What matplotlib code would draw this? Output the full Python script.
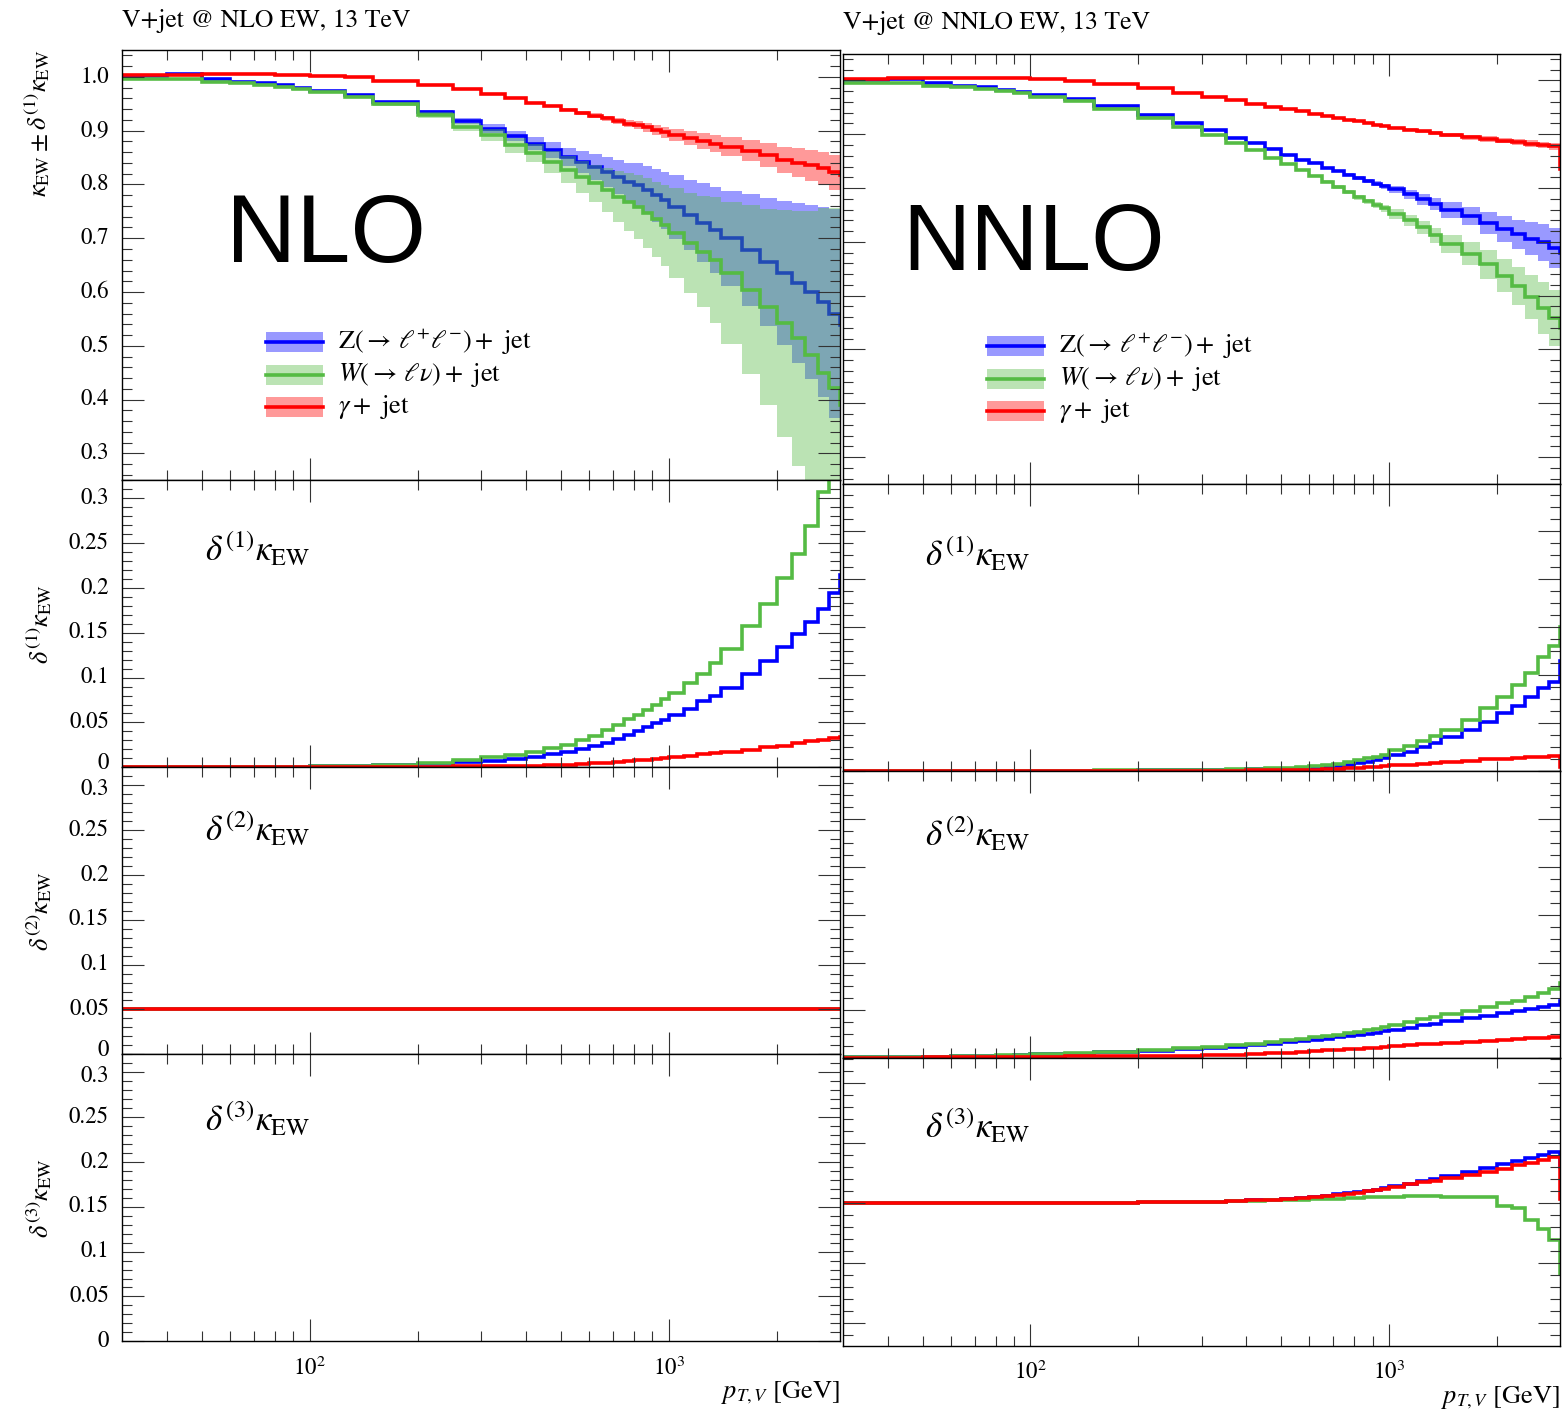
import numpy as np
import matplotlib
matplotlib.use("Agg")
import matplotlib.pyplot as plt
from matplotlib.ticker import MultipleLocator, NullFormatter
from matplotlib.patches import Rectangle
from matplotlib.lines import Line2D
from matplotlib.transforms import blended_transform_factory, offset_copy

plt.rcParams['font.family'] = ['STIXGeneral', 'DejaVu Serif']
plt.rcParams['mathtext.fontset'] = 'stix'

# ---------------------------------------------------------------------------
# Binning in p_T,V [GeV]; the last bin (3000-3500) lies beyond the plotted range
# ---------------------------------------------------------------------------
pt_edges = [30, 40, 50, 60, 70, 80, 90, 100, 125, 150, 200, 250,
            300, 350, 400, 450, 500, 550, 600, 650, 700, 750, 800, 850, 900, 950, 1000,
            1100, 1200, 1300, 1400, 1600, 1800, 2000, 2200, 2400, 2600, 2800, 3000, 3500]

# ---------------- NLO EW ----------------
kappa_nlo_z = [1.002, 1.005, 0.996, 0.991, 0.988, 0.984, 0.980, 0.974, 0.966, 0.9535,
               0.935, 0.918, 0.904, 0.890, 0.876, 0.864, 0.851, 0.842, 0.833, 0.823,
               0.814, 0.805, 0.799, 0.789, 0.780, 0.771, 0.758, 0.743, 0.729, 0.715,
               0.700, 0.678, 0.656, 0.635, 0.616, 0.600, 0.582, 0.560, 0.538]
kappa_nlo_w = [0.996, 0.996, 0.991, 0.988, 0.985, 0.981, 0.978, 0.971, 0.962, 0.949,
               0.929, 0.907, 0.892, 0.873, 0.858, 0.842, 0.827, 0.814, 0.802, 0.789,
               0.777, 0.768, 0.758, 0.747, 0.735, 0.724, 0.710, 0.691, 0.675, 0.659,
               0.635, 0.604, 0.573, 0.542, 0.514, 0.483, 0.449, 0.421, 0.390]
kappa_nlo_a = [1.003, 1.004, 1.005, 1.005, 1.005, 1.004, 1.004, 1.002, 0.999, 0.993,
               0.984, 0.977, 0.969, 0.960, 0.952, 0.946, 0.939, 0.933, 0.928, 0.923,
               0.918, 0.913, 0.910, 0.906, 0.901, 0.897, 0.892, 0.887, 0.881, 0.876,
               0.870, 0.863, 0.855, 0.846, 0.840, 0.836, 0.830, 0.823, 0.818]

d1_nlo_z = [0.0, 0.0, 0.0003, 0.0004, 0.0005, 0.0006, 0.0007, 0.001, 0.0015, 0.0025,
            0.004, 0.0055, 0.0075, 0.0095, 0.012, 0.0145, 0.017, 0.020, 0.024, 0.0275,
            0.031, 0.0355, 0.040, 0.0445, 0.049, 0.053, 0.0588, 0.065, 0.0737, 0.080,
            0.0887, 0.1037, 0.1187, 0.1337, 0.1487, 0.1618, 0.1767, 0.1944, 0.214]
d1_nlo_w = [0.0, 0.0, 0.0003, 0.0004, 0.0005, 0.0006, 0.0008, 0.0012, 0.002, 0.003,
            0.005, 0.008, 0.011, 0.014, 0.017, 0.021, 0.025, 0.030, 0.035, 0.0411,
            0.0475, 0.054, 0.0588, 0.0644, 0.070, 0.0756, 0.083, 0.0936, 0.1037, 0.1168,
            0.1318, 0.157, 0.1823, 0.211, 0.2374, 0.2685, 0.307, 0.335, 0.370]
d1_nlo_a = [0.0, 0.0, 0.0, 0.0, 0.0, 0.0001, 0.0001, 0.0002, 0.0003, 0.0005,
            0.0007, 0.0009, 0.0012, 0.0016, 0.002, 0.0025, 0.003, 0.0036, 0.0043, 0.0051,
            0.006, 0.007, 0.0078, 0.0085, 0.0095, 0.0102, 0.0112, 0.0127, 0.0146, 0.0165,
            0.0176, 0.0195, 0.0221, 0.0243, 0.027, 0.0288, 0.0307, 0.0326, 0.034]

d2_nlo = [0.05, 0.05, 0.05, 0.05, 0.05, 0.05, 0.05, 0.05, 0.05, 0.05,
          0.05, 0.05, 0.05, 0.05, 0.05, 0.05, 0.05, 0.05, 0.05, 0.05,
          0.05, 0.05, 0.05, 0.05, 0.05, 0.05, 0.05, 0.05, 0.05, 0.05,
          0.05, 0.05, 0.05, 0.05, 0.05, 0.05, 0.05, 0.05, 0.05]

# ---------------- NNLO EW ----------------
kappa_nnlo_z = [1.001, 1.003, 0.995, 0.990, 0.987, 0.983, 0.979, 0.973, 0.965, 0.952,
                0.936, 0.921, 0.907, 0.8935, 0.883, 0.873, 0.862, 0.853, 0.846, 0.838,
                0.831, 0.825, 0.819, 0.813, 0.808, 0.803, 0.7975, 0.788, 0.779, 0.770,
                0.759, 0.7475, 0.735, 0.7235, 0.714, 0.706, 0.699, 0.688, 0.680]
kappa_nnlo_w = [0.995, 0.995, 0.990, 0.987, 0.984, 0.980, 0.977, 0.970, 0.961, 0.947,
                0.930, 0.914, 0.898, 0.883, 0.870, 0.856, 0.8445, 0.834, 0.822, 0.812,
                0.802, 0.793, 0.783, 0.775, 0.768, 0.762, 0.752, 0.740, 0.727, 0.712,
                0.696, 0.678, 0.658, 0.637, 0.618, 0.598, 0.577, 0.558, 0.540]
kappa_nnlo_a = [1.003, 1.004, 1.005, 1.005, 1.005, 1.004, 1.004, 1.002, 0.999, 0.993,
                0.985, 0.9765, 0.9685, 0.963, 0.957, 0.951, 0.947, 0.9426, 0.938, 0.934,
                0.930, 0.927, 0.924, 0.921, 0.918, 0.915, 0.9117, 0.9087, 0.9056, 0.9025,
                0.898, 0.8944, 0.891, 0.888, 0.8858, 0.8827, 0.880, 0.8778, 0.835]

d1_nnlo_z = [0.0, 0.0, 0.0, 0.0, 0.0, 0.0, 0.0, 0.0001, 0.0001, 0.0002,
             0.0003, 0.0004, 0.0005, 0.0006, 0.0007, 0.0008, 0.0009, 0.001, 0.0013, 0.0016,
             0.002, 0.0026, 0.0032, 0.0039, 0.0045, 0.0053, 0.0067, 0.0081, 0.0101, 0.0115,
             0.0143, 0.0171, 0.0206, 0.024, 0.0271, 0.031, 0.0344, 0.0372, 0.046]
d1_nnlo_w = [0.0, 0.0, 0.0, 0.0, 0.0, 0.0, 0.0001, 0.0001, 0.0002, 0.0003,
             0.0004, 0.0005, 0.0006, 0.0008, 0.001, 0.0012, 0.0014, 0.0017, 0.0021, 0.0025,
             0.0029, 0.0037, 0.0046, 0.0053, 0.006, 0.0067, 0.00875, 0.0106, 0.0125, 0.0146,
             0.0171, 0.0213, 0.0264, 0.031, 0.0358, 0.0407, 0.0476, 0.0522, 0.060]
d1_nnlo_a = [0.0, 0.0, 0.0, 0.0, 0.0, 0.0, 0.0, 0.0, 0.0, 0.0001,
             0.0001, 0.0001, 0.0002, 0.0002, 0.0003, 0.0003, 0.0004, 0.0005, 0.0006, 0.0008,
             0.001, 0.0012, 0.0014, 0.0016, 0.0018, 0.002, 0.0023, 0.0027, 0.003, 0.0034,
             0.0038, 0.0043, 0.0048, 0.0052, 0.0055, 0.0058, 0.006, 0.0062, 0.0015]

d2_nnlo_z = [0.0004, 0.0005, 0.0007, 0.0008, 0.001, 0.0011, 0.0013, 0.0016, 0.002, 0.0026,
             0.0032, 0.0037, 0.0042, 0.0048, 0.0054, 0.006, 0.0066, 0.0072, 0.0077, 0.0082,
             0.0087, 0.0092, 0.0097, 0.0102, 0.0107, 0.0112, 0.0119, 0.0128, 0.0137, 0.0145,
             0.0155, 0.0167, 0.0177, 0.0188, 0.0198, 0.0206, 0.0213, 0.0223, 0.0240]
d2_nnlo_w = [0.0004, 0.0005, 0.0007, 0.0009, 0.0011, 0.0012, 0.0014, 0.0018, 0.0022, 0.0028,
             0.0035, 0.0041, 0.0047, 0.0054, 0.0061, 0.0068, 0.0075, 0.0081, 0.0087, 0.0093,
             0.0099, 0.0105, 0.0111, 0.0117, 0.0123, 0.0129, 0.0139, 0.0153, 0.0163, 0.0174,
             0.0185, 0.0198, 0.0213, 0.0230, 0.0241, 0.0255, 0.0272, 0.0288, 0.0316]
d2_nnlo_a = [0.0003, 0.0003, 0.0004, 0.0004, 0.0005, 0.0005, 0.0006, 0.0007, 0.0008, 0.0009,
             0.001, 0.001, 0.0012, 0.0015, 0.0018, 0.0021, 0.0024, 0.0027, 0.003, 0.0033,
             0.0035, 0.0038, 0.004, 0.0042, 0.0044, 0.0047, 0.005, 0.0054, 0.0058, 0.0061,
             0.0065, 0.007, 0.0074, 0.0077, 0.008, 0.0083, 0.0086, 0.0088, 0.0088]

d3_nnlo_z = [0.030, 0.030, 0.030, 0.030, 0.030, 0.030, 0.030, 0.030, 0.030, 0.030,
             0.0301, 0.0301, 0.0302, 0.0303, 0.0304, 0.0305, 0.0306, 0.0308, 0.031, 0.0312,
             0.0314, 0.0316, 0.0318, 0.032, 0.0322, 0.0324, 0.0328, 0.0332, 0.0336, 0.034,
             0.0345, 0.0352, 0.0358, 0.0364, 0.0369, 0.0374, 0.0379, 0.0385, 0.036]
d3_nnlo_w = [0.030, 0.030, 0.030, 0.030, 0.030, 0.030, 0.030, 0.030, 0.030, 0.030,
             0.0301, 0.0301, 0.0302, 0.0303, 0.0303, 0.0304, 0.0305, 0.0305, 0.0306, 0.0307,
             0.0307, 0.0308, 0.0308, 0.0309, 0.0309, 0.031, 0.031, 0.0311, 0.0311, 0.0311,
             0.031, 0.031, 0.031, 0.02945, 0.0292, 0.0271, 0.0256, 0.0238, 0.0182]
d3_nnlo_a = [0.030, 0.030, 0.030, 0.030, 0.030, 0.030, 0.030, 0.030, 0.030, 0.030,
             0.0301, 0.0301, 0.0302, 0.0303, 0.0304, 0.0305, 0.0306, 0.0308, 0.031, 0.0311,
             0.0313, 0.0315, 0.0317, 0.0319, 0.0321, 0.0323, 0.0327, 0.0331, 0.0334, 0.0337,
             0.0341, 0.0346, 0.0352, 0.0357, 0.0363, 0.0367, 0.0371, 0.0377, 0.0307]

# y-axis tick values and their printed labels for the NLO column
kappa_ticks = [0.3, 0.4, 0.5, 0.6, 0.7, 0.8, 0.9, 1.0]
kappa_tick_labels = ['0.3', '0.4', '0.5', '0.6', '0.7', '0.8', '0.9', '1.0']
delta_ticks = [0.0, 0.05, 0.1, 0.15, 0.2, 0.25, 0.3]
delta_tick_labels = ['0', '0.05', '0.1', '0.15', '0.2', '0.25', '0.3']

process_labels = [r'$\mathrm{Z}(\rightarrow\,\ell^{+}\ell^{-})+$ jet',
                  r'$W(\rightarrow\,\ell\nu)+$ jet',
                  r'$\gamma+$ jet']
column_titles = ['V+jet @ NLO EW, 13 TeV', 'V+jet @ NNLO EW, 13 TeV']
order_tags = ['NLO', 'NNLO']
xtick_labels = [r'$10^{2}$', r'$10^{3}$']

C_Z, C_W, C_A = '#0000ff', '#55bb44', '#ff0000'
BAND_ALPHA = 0.4
LW = 2.6

W, H = 1564, 1412
fig = plt.figure(figsize=(W / 100, H / 100), dpi=100)


def make_axes(left, top, right, bottom):
    return fig.add_axes([left / W, 1 - bottom / H, (right - left) / W, (bottom - top) / H])


def style(ax, ylim, major, minor, xlabels):
    ax.set_xscale('log')
    ax.set_xlim(30, 3000)
    ax.set_ylim(*ylim)
    ax.set_xticks([100, 1000])
    ax.set_xticks([40, 50, 60, 70, 80, 90, 200, 300, 400, 500, 600, 700, 800, 900, 2000],
                  minor=True)
    ax.xaxis.set_minor_formatter(NullFormatter())
    if xlabels:
        ax.set_xticklabels(xtick_labels)
    else:
        ax.set_xticklabels([])
    ax.yaxis.set_major_locator(MultipleLocator(major))
    ax.yaxis.set_minor_locator(MultipleLocator(minor))
    ax.yaxis.set_major_formatter(NullFormatter())
    ax.tick_params(which='both', direction='in', top=True, right=True,
                   color='0.2', width=0.8)
    ax.tick_params(which='major', length=16)
    ax.tick_params(which='minor', length=7.5)
    ax.tick_params(axis='x', labelsize=16.5, pad=11)
    for s in ax.spines.values():
        s.set_linewidth(1.0)


def ytick_text(ax, values, labels, nudge=None):
    # numbers left of the frame; nudge shifts single labels vertically (pixels)
    nudge = nudge or {}
    base = blended_transform_factory(ax.transAxes, ax.transData)
    for v, lab in zip(values, labels):
        tr = offset_copy(base, fig=fig, x=-13, y=nudge.get(lab, 0), units='dots')
        ax.text(0, v, lab, transform=tr, ha='right', va='center', fontsize=16.5)


def draw_main(ax, kappas, deltas):
    for kap, d1, col in zip(kappas, deltas, [C_Z, C_W, C_A]):
        kap = np.asarray(kap)
        d1 = np.asarray(d1)
        ax.stairs(kap + d1, pt_edges, baseline=kap - d1, fill=True,
                  color=col, alpha=BAND_ALPHA, lw=0)
        ax.stairs(kap, pt_edges, baseline=None, color=col, lw=LW)


def draw_lines(ax, series):
    for vals, col in zip(series, [C_Z, C_W, C_A]):
        ax.stairs(vals, pt_edges, baseline=None, color=col, lw=LW)


def draw_legend(x0, y_rows):
    # band swatch with central line, followed by the process name
    for lab, col, yc in zip(process_labels, [C_Z, C_W, C_A], y_rows):
        fig.patches.append(Rectangle((x0 / W, 1 - (yc + 10) / H), 57 / W, 20 / H,
                                     transform=fig.transFigure, facecolor=col,
                                     alpha=BAND_ALPHA, lw=0))
        fig.lines.append(Line2D([x0 / W, (x0 + 57) / W], [1 - yc / H, 1 - yc / H],
                                transform=fig.transFigure, color=col, lw=LW))
        fig.text((x0 + 72) / W, 1 - yc / H, lab, fontsize=19, ha='left', va='center')


panel_tags = [r'$\delta^{(1)}\kappa_{\rm EW}$', r'$\delta^{(2)}\kappa_{\rm EW}$',
              r'$\delta^{(3)}\kappa_{\rm EW}$']

# ---------------- left column: NLO EW ----------------
L0, L1 = 122, 840
rows_l = [(50, 480.3), (480.3, 767.3), (767.3, 1054.3), (1054.3, 1341.3)]
axl = [make_axes(L0, t, L1, b) for t, b in rows_l]

style(axl[0], (0.25, 1.05), 0.1, 0.02, False)
draw_main(axl[0], [kappa_nlo_z, kappa_nlo_w, kappa_nlo_a], [d1_nlo_z, d1_nlo_w, d1_nlo_a])
ytick_text(axl[0], kappa_ticks, kappa_tick_labels)

style(axl[1], (0, 0.32), 0.05, 0.01, False)
draw_lines(axl[1], [d1_nlo_z, d1_nlo_w, d1_nlo_a])
ytick_text(axl[1], delta_ticks, delta_tick_labels, {'0': 4})

style(axl[2], (0, 0.32), 0.05, 0.01, False)
draw_lines(axl[2], [d2_nlo, d2_nlo, d2_nlo])
ytick_text(axl[2], delta_ticks, delta_tick_labels, {'0': 4, '0.3': -4})

style(axl[3], (0, 0.32), 0.05, 0.01, True)
ytick_text(axl[3], delta_ticks, delta_tick_labels, {'0.3': -4})

# ---------------- right column: NNLO EW ----------------
R0, R1 = 843, 1560
rows_r = [(53.5, 484), (484, 771), (771, 1058.3), (1058.3, 1345.6)]
axr = [make_axes(R0, t, R1, b) for t, b in rows_r]

style(axr[0], (0.25, 1.05), 0.1, 0.02, False)
draw_main(axr[0], [kappa_nnlo_z, kappa_nnlo_w, kappa_nnlo_a],
          [d1_nnlo_z, d1_nnlo_w, d1_nnlo_a])

style(axr[1], (0, 0.1196), 0.02, 0.005, False)
draw_lines(axr[1], [d1_nnlo_z, d1_nnlo_w, d1_nnlo_a])

style(axr[2], (0, 0.12), 0.02, 0.005, False)
draw_lines(axr[2], [d2_nnlo_z, d2_nnlo_w, d2_nnlo_a])

style(axr[3], (0.0062, 0.0541), 0.01, 0.002, True)
draw_lines(axr[3], [d3_nnlo_z, d3_nnlo_w, d3_nnlo_a])

# ---------------- annotations ----------------
fig.text(L0 / W, 1 - 21 / H, column_titles[0], fontsize=18.5, ha='left', va='center')
fig.text(R0 / W, 1 - 23 / H, column_titles[1], fontsize=18.5, ha='left', va='center')

fig.text(226 / W, 1 - 262 / H, order_tags[0], fontsize=70, family='Liberation Sans',
         ha='left', va='baseline')
fig.text(902 / W, 1 - 270 / H, order_tags[1], fontsize=68, family='Liberation Sans',
         ha='left', va='baseline')

draw_legend(266, [342, 375, 407])
draw_legend(987, [346, 379, 411])

for tag, yc in zip(panel_tags, [550, 830, 1120]):
    fig.text(205 / W, 1 - yc / H, tag, fontsize=25, ha='left', va='center')
for tag, yc in zip(panel_tags, [555, 835, 1127]):
    fig.text(925 / W, 1 - yc / H, tag, fontsize=25, ha='left', va='center')

fig.text(38 / W, 1 - 50 / H, r'$\kappa_{\rm EW} \pm \delta^{(1)}\kappa_{\rm EW}$',
         fontsize=19, rotation=90, ha='center', va='top')
for tag, yc in zip(panel_tags, [624, 911, 1198]):
    fig.text(40 / W, 1 - yc / H, tag, fontsize=19, rotation=90, ha='center', va='center')

fig.text(L1 / W, 1 - 1393 / H, r'$p_{T,V}$ [GeV]', fontsize=19, ha='right', va='center')
fig.text(R1 / W, 1 - 1398 / H, r'$p_{T,V}$ [GeV]', fontsize=19, ha='right', va='center')

fig.savefig('out.png', dpi=100)
